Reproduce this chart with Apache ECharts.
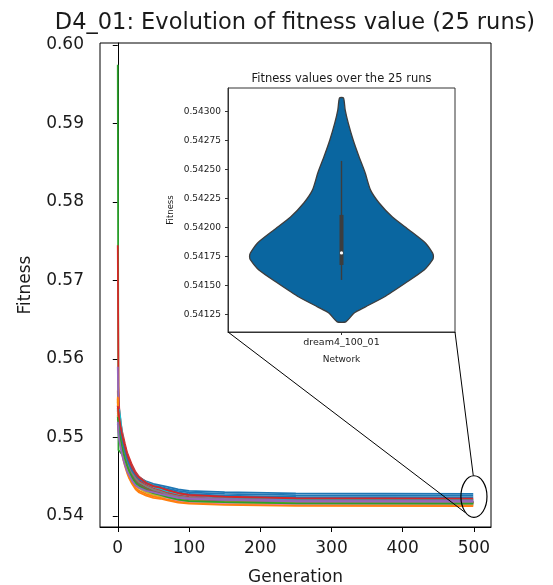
<!DOCTYPE html>
<html>
<head>
<meta charset="utf-8">
<script src="https://cdn.jsdelivr.net/npm/echarts@6/dist/echarts.min.js"></script>
<style>
  html, body { margin: 0; padding: 0; background: #fff; }
  #main { width: 553px; height: 585px; }
</style>
</head>
<body>
<div id="main"></div>
<script>
// generations sampled from the 25 runs
const gens = [0, 1, 2, 4, 6, 8, 10, 13, 16, 20, 25, 30, 40, 50, 60, 70, 85, 100, 150, 250, 499]

// best fitness per run at each sampled generation
const runs = [
  [0.5535, 0.5517, 0.5510, 0.5503, 0.5496, 0.5489, 0.5483, 0.5475, 0.5468, 0.5460, 0.5454, 0.5449, 0.5444, 0.5441, 0.5439, 0.5437, 0.5434, 0.5432, 0.54305, 0.54287, 0.54282],
  [0.5560, 0.5513, 0.5505, 0.5496, 0.5488, 0.5480, 0.5473, 0.5464, 0.5457, 0.5449, 0.5442, 0.5438, 0.5433, 0.5430, 0.5428, 0.5425, 0.5423, 0.54212, 0.54190, 0.54170, 0.54165],
  [0.5975, 0.5484, 0.5483, 0.5481, 0.5479, 0.5476, 0.5472, 0.5467, 0.5460, 0.5453, 0.5446, 0.5442, 0.5436, 0.5433, 0.5430, 0.5427, 0.5424, 0.5422, 0.54202, 0.54184, 0.54180],
  [0.5745, 0.5565, 0.5537, 0.5519, 0.5508, 0.5500, 0.5492, 0.5481, 0.5474, 0.5465, 0.5456, 0.5450, 0.5443, 0.5439, 0.5436, 0.5433, 0.5429, 0.5426, 0.54232, 0.54210, 0.54205],
  [0.5590, 0.5530, 0.5512, 0.5499, 0.5488, 0.5478, 0.5470, 0.5461, 0.5454, 0.5447, 0.5441, 0.5437, 0.5433, 0.5430, 0.5428, 0.5426, 0.5423, 0.5421, 0.54192, 0.54175, 0.54172],
  [0.5528, 0.5520, 0.5513, 0.5504, 0.5495, 0.5486, 0.5479, 0.5470, 0.5462, 0.5454, 0.5447, 0.5443, 0.5438, 0.5434, 0.5432, 0.5429, 0.5425, 0.5423, 0.54205, 0.54183, 0.54178],
  [0.5542, 0.5515, 0.5507, 0.5497, 0.5487, 0.5479, 0.5471, 0.5462, 0.5455, 0.5447, 0.5441, 0.5437, 0.5432, 0.5429, 0.5427, 0.5425, 0.5422, 0.54205, 0.54182, 0.54164, 0.54160],
  [0.5531, 0.5523, 0.5515, 0.5506, 0.5497, 0.5488, 0.5481, 0.5472, 0.5464, 0.5456, 0.5449, 0.5444, 0.5438, 0.5434, 0.5431, 0.5428, 0.5425, 0.5423, 0.54200, 0.54180, 0.54175],
  [0.5549, 0.5511, 0.5504, 0.5495, 0.5486, 0.5477, 0.5470, 0.5460, 0.5452, 0.5445, 0.5439, 0.5435, 0.5430, 0.5427, 0.5425, 0.5423, 0.5420, 0.54185, 0.54168, 0.54153, 0.54150],
  [0.5516, 0.5530, 0.5536, 0.5522, 0.5506, 0.5495, 0.5487, 0.5477, 0.5469, 0.5461, 0.5453, 0.5448, 0.5441, 0.5437, 0.5434, 0.5431, 0.5427, 0.5424, 0.54215, 0.54195, 0.54190],
  [0.5538, 0.5519, 0.5511, 0.5502, 0.5494, 0.5487, 0.5480, 0.5471, 0.5464, 0.5457, 0.5451, 0.5447, 0.5442, 0.5439, 0.5437, 0.5435, 0.5432, 0.5430, 0.54282, 0.54265, 0.54260],
  [0.5552, 0.5514, 0.5504, 0.5493, 0.5483, 0.5474, 0.5467, 0.5458, 0.5450, 0.5443, 0.5436, 0.5432, 0.5428, 0.5425, 0.5423, 0.5421, 0.54185, 0.54170, 0.54152, 0.54138, 0.54135],
  [0.5527, 0.5517, 0.5509, 0.5500, 0.5491, 0.5483, 0.5476, 0.5467, 0.5459, 0.5451, 0.5444, 0.5440, 0.5435, 0.5431, 0.5428, 0.5426, 0.5423, 0.5421, 0.54192, 0.54174, 0.54170],
  [0.5545, 0.5525, 0.5517, 0.5507, 0.5499, 0.5491, 0.5484, 0.5475, 0.5467, 0.5458, 0.5450, 0.5445, 0.5439, 0.5435, 0.5432, 0.5429, 0.5426, 0.5424, 0.54205, 0.54183, 0.54178],
  [0.5524, 0.5510, 0.5501, 0.5491, 0.5482, 0.5474, 0.5467, 0.5459, 0.5452, 0.5445, 0.5440, 0.5437, 0.5433, 0.5431, 0.5429, 0.5427, 0.5424, 0.5423, 0.54215, 0.54198, 0.54195],
  [0.5541, 0.5518, 0.5510, 0.5501, 0.5492, 0.5484, 0.5477, 0.5468, 0.5460, 0.5452, 0.5445, 0.5440, 0.5435, 0.5431, 0.5429, 0.5426, 0.5423, 0.5421, 0.54190, 0.54172, 0.54168],
  [0.5534, 0.5512, 0.5503, 0.5494, 0.5485, 0.5476, 0.5469, 0.5460, 0.5453, 0.5446, 0.5440, 0.5436, 0.5431, 0.5428, 0.5426, 0.5423, 0.5420, 0.54182, 0.54162, 0.54148, 0.54145],
  [0.5529, 0.5521, 0.5514, 0.5505, 0.5496, 0.5487, 0.5480, 0.5471, 0.5463, 0.5455, 0.5448, 0.5443, 0.5438, 0.5434, 0.5431, 0.5428, 0.5425, 0.5423, 0.54205, 0.54185, 0.54180],
  [0.5547, 0.5515, 0.5506, 0.5496, 0.5486, 0.5478, 0.5471, 0.5461, 0.5454, 0.5447, 0.5440, 0.5436, 0.5431, 0.5428, 0.5426, 0.5424, 0.5421, 0.5419, 0.54175, 0.54160, 0.54158],
  [0.5530, 0.5527, 0.5520, 0.5511, 0.5502, 0.5494, 0.5487, 0.5478, 0.5470, 0.5462, 0.5454, 0.5449, 0.5443, 0.5439, 0.5436, 0.5433, 0.5429, 0.5427, 0.54242, 0.54220, 0.54215],
  [0.5537, 0.5522, 0.5515, 0.5506, 0.5498, 0.5490, 0.5483, 0.5474, 0.5466, 0.5458, 0.5452, 0.5447, 0.5442, 0.5438, 0.5436, 0.5433, 0.5430, 0.5428, 0.54260, 0.54242, 0.54238],
  [0.5550, 0.5511, 0.5501, 0.5490, 0.5480, 0.5471, 0.5464, 0.5455, 0.5448, 0.5441, 0.5434, 0.5430, 0.5426, 0.5423, 0.5422, 0.5420, 0.5417, 0.54158, 0.54142, 0.54128, 0.54125],
  [0.5526, 0.5514, 0.5506, 0.5497, 0.5488, 0.5480, 0.5473, 0.5464, 0.5457, 0.5449, 0.5442, 0.5438, 0.5433, 0.5429, 0.5427, 0.5424, 0.5421, 0.5419, 0.54176, 0.54161, 0.54158],
  [0.5540, 0.5533, 0.5525, 0.5514, 0.5504, 0.5496, 0.5489, 0.5479, 0.5471, 0.5462, 0.5454, 0.5449, 0.5442, 0.5438, 0.5436, 0.5433, 0.5429, 0.5427, 0.54245, 0.54226, 0.54222],
  [0.5520, 0.5505, 0.5497, 0.5487, 0.5478, 0.5471, 0.5465, 0.5457, 0.5452, 0.5445, 0.5439, 0.5436, 0.5432, 0.5430, 0.5428, 0.5426, 0.5423, 0.5422, 0.54205, 0.54188, 0.54185]
]

// tick labels
const genTicks = [0, 100, 200, 300, 400, 500]
const fitnessTicks = [0.54, 0.55, 0.56, 0.57, 0.58, 0.59, 0.60]
const insetTicks = [0.54125, 0.5415, 0.54175, 0.542, 0.54225, 0.5425, 0.54275, 0.543]
const networks = ['dream4_100_01']

// violin outline: fitness level -> relative density
const violinLevels = [0.543118, 0.543015, 0.542903, 0.542756, 0.542609, 0.542471, 0.542325, 0.542212, 0.542091, 0.541979, 0.541867, 0.541781, 0.54175, 0.541721, 0.541634, 0.541522, 0.541401, 0.541316, 0.541263, 0.541186]
const violinDensity = [0.022, 0.040, 0.073, 0.127, 0.192, 0.258, 0.315, 0.410, 0.554, 0.736, 0.913, 0.990, 1.0, 0.990, 0.899, 0.696, 0.464, 0.261, 0.138, 0.047]
// whisker low, q1, median, q3, whisker high
const boxStats = [0.541548, 0.541677, 0.541781, 0.542109, 0.542575]

// zoomed region marked on the main plot
const zoomGen = 500
const zoomFit = 0.54248
const zoomHalfGen = 18.3
const zoomHalfFit = 0.00265

const tab10 = ['#1f77b4', '#ff7f0e', '#2ca02c', '#d62728', '#9467bd', '#8c564b', '#e377c2', '#7f7f7f', '#bcbd22', '#17becf']
const font = 'DejaVu Sans'
const ink = '#1a1a1a'
const violinFill = '#0a66a0'
const violinEdge = '#3d3d3d'

const inset = { left: 228, top: 88, right: 98, bottom: 253 }

const chart = echarts.init(document.getElementById('main'))

const series = runs.map((vals, i) => ({
  type: 'line',
  xAxisIndex: 0,
  yAxisIndex: 0,
  data: gens.map((g, j) => [g, vals[j]]),
  symbol: 'none',
  lineStyle: { width: 1.8, color: tab10[i % 10] },
  itemStyle: { color: tab10[i % 10] },
  silent: true
}))

series.push({
  type: 'custom',
  xAxisIndex: 1,
  yAxisIndex: 1,
  data: [[0, boxStats[2]]],
  silent: true,
  z: 10,
  renderItem: (params, api) => {
    const half = api.size([1, 0])[0] * 0.405
    const right = []
    const left = []
    violinLevels.forEach((v, k) => {
      const p = api.coord([0, v])
      right.push([p[0] + violinDensity[k] * half, p[1]])
      left.unshift([p[0] - violinDensity[k] * half, p[1]])
    })
    const lo = api.coord([0, boxStats[0]])
    const q1 = api.coord([0, boxStats[1]])
    const med = api.coord([0, boxStats[2]])
    const q3 = api.coord([0, boxStats[3]])
    const hi = api.coord([0, boxStats[4]])
    return {
      type: 'group',
      children: [
        {
          type: 'polygon',
          shape: { points: right.concat(left), smooth: 0.2 },
          style: { fill: violinFill, stroke: violinEdge, lineWidth: 1.3 }
        },
        {
          type: 'line',
          shape: { x1: lo[0], y1: lo[1], x2: hi[0], y2: hi[1] },
          style: { stroke: violinEdge, lineWidth: 1.4 }
        },
        {
          type: 'rect',
          shape: { x: q3[0] - 2, y: q3[1], width: 4, height: q1[1] - q3[1] },
          style: { fill: violinEdge }
        },
        {
          type: 'circle',
          shape: { cx: med[0], cy: med[1], r: 1.6 },
          style: { fill: '#fff' }
        }
      ]
    }
  }
})

const option = {
  animation: false,
  backgroundColor: '#fff',
  textStyle: { fontFamily: font },
  grid: [
    { left: 100, top: 43, right: 62, bottom: 58, show: true, borderColor: '#000', borderWidth: 1, containLabel: false, outerBoundsMode: 'none' },
    { left: inset.left, top: inset.top, right: inset.right, bottom: inset.bottom, show: true, backgroundColor: '#fff', borderColor: '#333', borderWidth: 1, z: 5, outerBoundsMode: 'none' }
  ],
  xAxis: [
    {
      type: 'value',
      gridIndex: 0,
      min: -24.95,
      max: 523.95,
      name: 'Generation',
      nameLocation: 'middle',
      nameGap: 42,
      nameTextStyle: { fontSize: 17, color: ink, fontFamily: font },
      axisLine: { show: true, lineStyle: { color: '#000', width: 1 } },
      axisTick: { show: true, length: 5, lineStyle: { color: '#000' }, customValues: genTicks },
      axisLabel: { fontSize: 17, color: ink, margin: 13, fontFamily: font, customValues: genTicks },
      splitLine: { show: false }
    },
    {
      type: 'category',
      gridIndex: 1,
      data: networks,
      name: 'Network',
      nameLocation: 'middle',
      nameGap: 23,
      nameTextStyle: { fontSize: 9, color: ink, fontFamily: font },
      axisLine: { show: true, lineStyle: { color: '#333' } },
      axisTick: { show: true, length: 3, alignWithLabel: true, lineStyle: { color: '#333' } },
      axisLabel: { fontSize: 9.5, color: ink, margin: 6, fontFamily: font },
      z: 6
    }
  ],
  yAxis: [
    {
      type: 'value',
      gridIndex: 0,
      min: 0.538599,
      max: 0.600255,
      name: 'Fitness',
      nameLocation: 'middle',
      nameGap: 66,
      nameTextStyle: { fontSize: 17, color: ink, fontFamily: font },
      axisLine: { show: true, lineStyle: { color: '#000', width: 1 } },
      axisTick: { show: true, length: 5, lineStyle: { color: '#000' }, customValues: fitnessTicks },
      axisLabel: { fontSize: 17, color: ink, margin: 16, fontFamily: font, customValues: fitnessTicks, formatter: v => v.toFixed(2) },
      splitLine: { show: false }
    },
    {
      type: 'value',
      gridIndex: 1,
      min: 0.541099,
      max: 0.543204,
      name: 'Fitness',
      nameLocation: 'middle',
      nameGap: 53,
      nameTextStyle: { fontSize: 8.5, color: ink, fontFamily: font },
      axisLine: { show: true, lineStyle: { color: '#333' } },
      axisTick: { show: true, length: 3, lineStyle: { color: '#333' }, customValues: insetTicks },
      axisLabel: { fontSize: 9, color: ink, margin: 7, fontFamily: font, customValues: insetTicks, formatter: v => v.toFixed(5) },
      splitLine: { show: false },
      z: 6
    }
  ],
  series: series
}

chart.setOption(option)

// ellipse around the last generation and the lines joining it to the inset
const c = chart.convertToPixel({ gridIndex: 0 }, [zoomGen, zoomFit])
const e = chart.convertToPixel({ gridIndex: 0 }, [zoomGen + zoomHalfGen, zoomFit - zoomHalfFit])
const rx = e[0] - c[0]
const ry = e[1] - c[1]
const insetBottom = 585 - inset.bottom
const insetRight = 553 - inset.right

chart.setOption({
  graphic: [
    {
      type: 'text',
      x: 295, y: 23,
      style: { text: 'D4_01: Evolution of fitness value (25 runs)', textAlign: 'center', textVerticalAlign: 'middle', fontSize: 22.5, fontFamily: font, fill: ink }
    },
    {
      type: 'text',
      x: (inset.left + insetRight) / 2, y: 79,
      style: { text: 'Fitness values over the 25 runs', textAlign: 'center', textVerticalAlign: 'middle', fontSize: 11.5, fontFamily: font, fill: ink }
    },
    {
      type: 'ellipse',
      shape: { cx: c[0], cy: c[1], rx: rx, ry: ry },
      style: { fill: 'none', stroke: '#000', lineWidth: 1.2 },
      z: 20
    },
    {
      type: 'line',
      shape: { x1: inset.left, y1: insetBottom, x2: c[0] - rx * 0.69, y2: c[1] + ry * 0.76 },
      style: { stroke: '#000', lineWidth: 1 },
      z: 20
    },
    {
      type: 'line',
      shape: { x1: insetRight, y1: insetBottom, x2: c[0] - rx * 0.05, y2: c[1] - ry },
      style: { stroke: '#000', lineWidth: 1 },
      z: 20
    }
  ]
})
</script>
</body>
</html>
